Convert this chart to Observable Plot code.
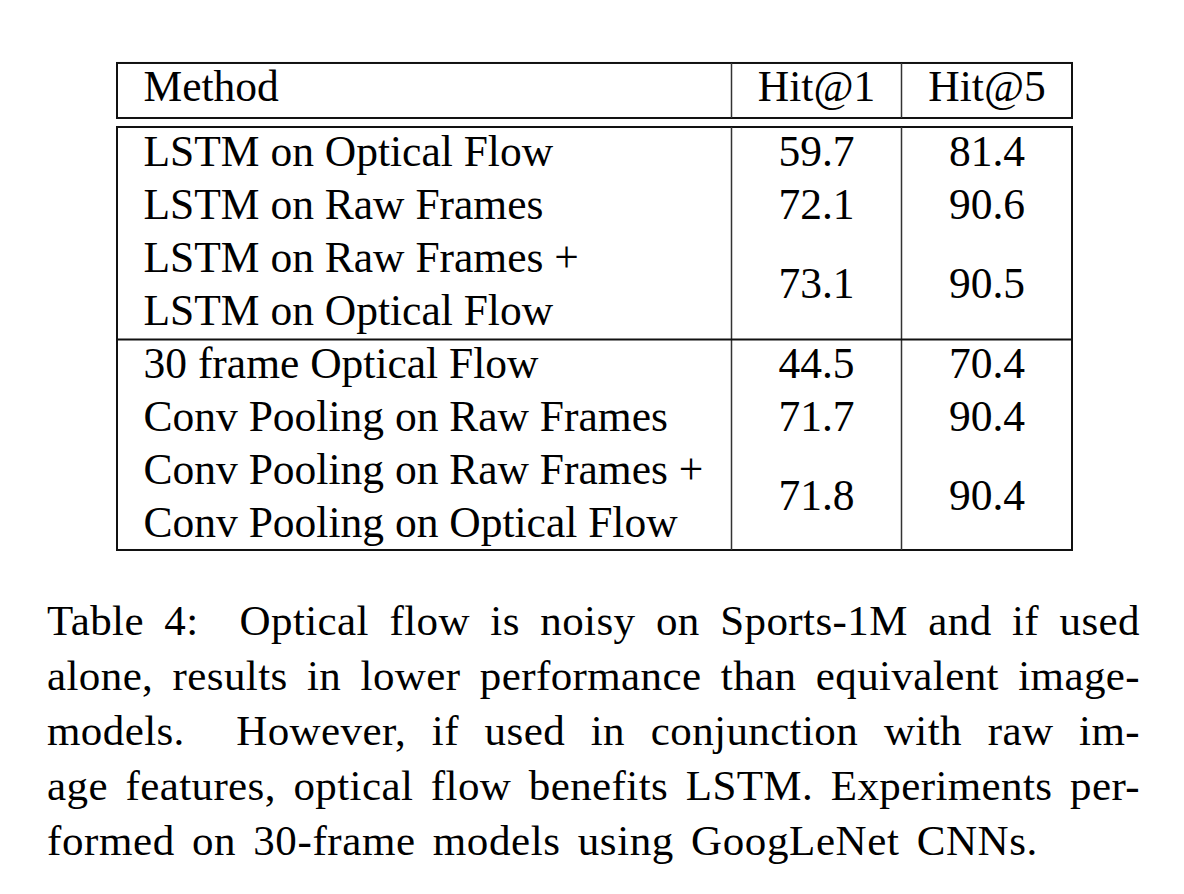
<!DOCTYPE html>
<html>
<head>
<meta charset="utf-8">
<script src="https://cdn.jsdelivr.net/npm/d3@7"></script>
<script src="https://cdn.jsdelivr.net/npm/@observablehq/plot@0.6"></script>
<style>
  html, body { margin: 0; padding: 0; background: #fff; }
  #chart { position: relative; width: 1184px; height: 894px; }
  #caption {
    position: absolute; left: 47px; top: 593px; width: 1093px;
    font-family: "Liberation Serif", "Times New Roman", serif;
    font-size: 43px; line-height: 55px; color: #000;
    letter-spacing: 0.4px;
  }
  #caption div { text-align: justify; text-align-last: justify; white-space: pre; }
  #caption div:last-child { text-align: left; text-align-last: left; letter-spacing: 0.6px; word-spacing: 5.8px; }
</style>
</head>
<body>
<div id="chart"></div>
<script>
// ---- data ----
const headers = ["Method", "Hit@1", "Hit@5"];
const methods = [
  "LSTM on Optical Flow",
  "LSTM on Raw Frames",
  "LSTM on Raw Frames +\nLSTM on Optical Flow",
  "30 frame Optical Flow",
  "Conv Pooling on Raw Frames",
  "Conv Pooling on Raw Frames +\nConv Pooling on Optical Flow"
];
const hit1 = [59.7, 72.1, 73.1, 44.5, 71.7, 71.8];
const hit5 = [81.4, 90.6, 90.5, 70.4, 90.4, 90.4];
const groups = [0, 0, 0, 1, 1, 1];
const captionLines = [
  "Table 4:  Optical flow is noisy on Sports-1M and if used",
  "alone, results in lower performance than equivalent image-",
  "models.  However, if used in conjunction with raw im-",
  "age features, optical flow benefits LSTM. Experiments per-",
  "formed on 30-frame models using GoogLeNet CNNs."
];

// ---- layout (in column / text-line units) ----
const layout = {
  colEdgesPx: [117, 731, 901, 1072],
  lineFirstPx: 165, linePitch: 53,
  headerBaseline: -0.226, headerTop: -0.925, headerBottom: 0.113,
  bodyPadTop: 0.717, groupPadBelow: 0.283, bottomPad: 0.264,
  fontSize: 43.5, methodInset: 26
};

// build rows with line positions
let line = 1;
const rows = methods.map((m, i) => {
  const n = m.split("\n").length;
  const first = line, last = line + n - 1;
  line += n;
  return {method: m, hit1: hit1[i], hit5: hit5[i], group: groups[i], first, last, mid: (first + last) / 2};
});
const cells = rows.flatMap(r => [
  {col: 1.5, y: r.mid, text: r.hit1.toFixed(1)},
  {col: 2.5, y: r.mid, text: r.hit5.toFixed(1)}
]);
const headerMethod = [{text: headers[0], col: 0}];
const headerValues = headers.slice(1).map((h, i) => ({text: h, col: i + 1.5}));
const groupEnds = d3.rollups(rows, v => d3.max(v, r => r.last), r => r.group).map(([g, l]) => l);
const lastLine = d3.max(rows, r => r.last);
const bodyTop = 1 - layout.bodyPadTop;
const bodyBottom = lastLine + layout.bottomPad;
const dividers = groupEnds.slice(0, -1).map(l => l + layout.groupPadBelow);
const boxes = [
  {y1: layout.headerTop, y2: layout.headerBottom},
  {y1: bodyTop, y2: bodyBottom}
];
const vlines = boxes.flatMap(b => [1, 2].map(c => ({x: c, y1: b.y1, y2: b.y2})));

const lastLinePx = layout.lineFirstPx + layout.linePitch * (lastLine - 1);
const lh = layout.linePitch / layout.fontSize;

const plot = Plot.plot({
  width: 1184,
  height: 570,
  margin: 0,
  style: {fontFamily: "'Liberation Serif', 'Times New Roman', serif", background: "#fff", color: "#000"},
  x: {type: "linear", domain: [0, 1, 2, 3], range: layout.colEdgesPx, axis: null},
  y: {type: "linear", domain: [1, lastLine], range: [layout.lineFirstPx, lastLinePx], axis: null},
  marks: [
    Plot.rect(boxes, {x1: 0, x2: 3, y1: "y1", y2: "y2", fill: "none", stroke: "#111", strokeWidth: 2}),
    Plot.ruleX(vlines, {x: "x", y1: "y1", y2: "y2", stroke: "#333", strokeWidth: 1.5}),
    Plot.ruleY(dividers, {y: d => d, x1: 0, x2: 3, stroke: "#111", strokeWidth: 2}),
    Plot.text(headerMethod, {x: "col", y: () => layout.headerBaseline, text: "text", textAnchor: "start", dx: layout.methodInset, lineAnchor: "bottom", fontSize: layout.fontSize, fill: "#000"}),
    Plot.text(headerValues, {x: "col", y: () => layout.headerBaseline, text: "text", textAnchor: "middle", lineAnchor: "bottom", fontSize: layout.fontSize, fill: "#000"}),
    Plot.text(rows, {x: () => 0, y: "last", text: "method", textAnchor: "start", dx: layout.methodInset, lineAnchor: "bottom", lineHeight: lh, fontSize: layout.fontSize, fill: "#000"}),
    Plot.text(cells, {x: "col", y: "y", text: "text", textAnchor: "middle", lineAnchor: "bottom", fontSize: layout.fontSize, fill: "#000"})
  ]
});

const chart = document.getElementById("chart");
chart.appendChild(plot);
const cap = document.createElement("div");
cap.id = "caption";
captionLines.forEach(t => {
  const d = document.createElement("div");
  d.textContent = t;
  cap.appendChild(d);
});
chart.appendChild(cap);
</script>
</body>
</html>
